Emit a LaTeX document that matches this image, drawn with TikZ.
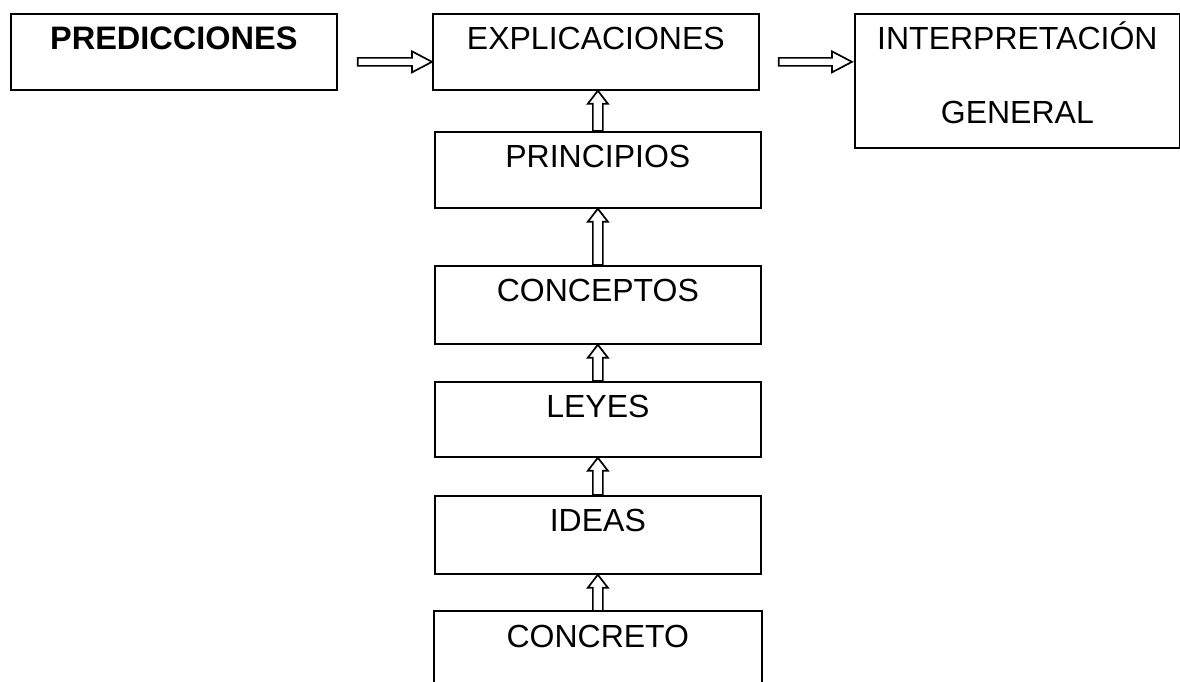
\documentclass[tikz,border=0pt]{standalone}
\usepackage{fontspec}
\setmainfont{Liberation Sans}
\usetikzlibrary{calc}
\tikzset{
  box/.style={draw, line width=1.7pt, rectangle, inner sep=0pt, anchor=north west,
    font=\fontsize{32}{38}\selectfont, text height=36pt},
  hollow/.style={draw, fill=white, line width=1.7pt, line join=miter}
}
\newcommand\hblockarrow[2]{%
  \draw[hollow] let \p1=(#1), \p2=(#2) in
    (\x1,\y2+4pt) -- (\x2-20pt,\y2+4pt) -- (\x2-20pt,\y2+10.5pt) -- (\x2,\y2)
    -- (\x2-20pt,\y2-10.5pt) -- (\x2-20pt,\y2-4pt) -- (\x1,\y2-4pt) -- cycle;}
\newcommand\vblockarrow[2]{%
  \draw[hollow] let \p1=(#1), \p2=(#2) in
    (\x1-5pt,\y1) -- (\x1-5pt,\y2-13pt) -- (\x1-10pt,\y2-13pt) -- (\x1,\y2)
    -- (\x1+10pt,\y2-13pt) -- (\x1+5pt,\y2-13pt) -- (\x1+5pt,\y1) -- cycle;}
\begin{document}
\begin{tikzpicture}[x=1pt,y=-1pt]
\useasboundingbox (0,0) rectangle (1180,681);
\node[box, minimum width=326pt, minimum height=76pt, text depth=40pt] (pred) at (10,13) {\fontsize{32.5}{38}\selectfont\textbf{PREDICCIONES}};
\node[box, minimum width=326pt, minimum height=76pt, text depth=40pt] (expl) at (432,13) {EXPLICACIONES};
\node[box, minimum width=325pt, minimum height=134pt, text depth=98pt] (interp) at (854,13)
  {\fontsize{32}{74}\selectfont\begin{tabular}[t]{@{}c@{}}INTERPRETACIÓN\\GENERAL\end{tabular}};
\node[box, minimum width=326pt, minimum height=76pt, text depth=40pt] (princ) at (434,131) {PRINCIPIOS};
\node[box, minimum width=326pt, minimum height=78pt, text depth=42pt] (conc) at (434,265) {CONCEPTOS};
\node[box, minimum width=326pt, minimum height=75pt, text depth=39pt] (leyes) at (434,381) {LEYES};
\node[box, minimum width=326pt, minimum height=78pt, text depth=42pt] (ideas) at (434,495) {IDEAS};
\node[box, draw=none, minimum width=326pt, minimum height=70pt, text depth=34pt] (concr) at (434,611) {CONCRETO};
\draw[line width=1.7pt] (concr.south west) |- (concr.north east) -- (concr.south east);
% horizontal arrows
\coordinate (t1) at ($(pred.east)+(20,10)$);
\coordinate (h1) at ($(expl.west)+(0,10)$);
\hblockarrow{t1}{h1}
\coordinate (t2) at ($(expl.east)+(19,10)$);
\coordinate (h2) at ($(interp.west |- expl.east)+(-2,10)$);
\hblockarrow{t2}{h2}
% vertical arrows
\vblockarrow{princ.north}{expl.south}
\vblockarrow{conc.north}{princ.south}
\vblockarrow{leyes.north}{conc.south}
\vblockarrow{ideas.north}{leyes.south}
\vblockarrow{concr.north}{ideas.south}
\end{tikzpicture}
\end{document}
